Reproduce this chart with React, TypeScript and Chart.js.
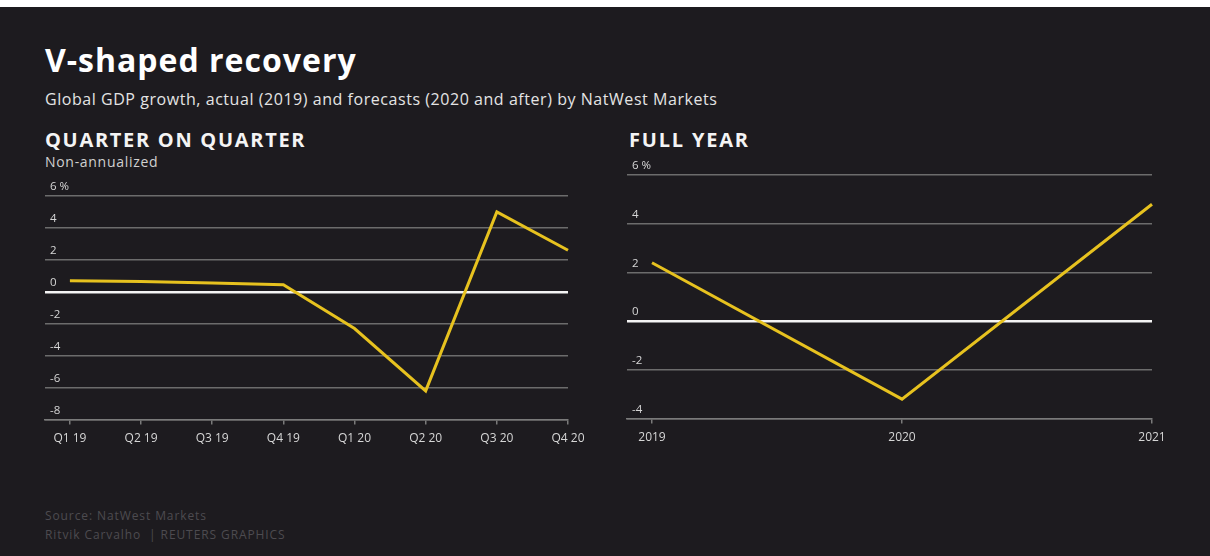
import React, { useEffect, useRef } from 'react';
import { Chart, registerables } from 'chart.js';

Chart.register(...registerables);

// ---- Data ----
const quarterLabels = ['Q1 19', 'Q2 19', 'Q3 19', 'Q4 19', 'Q1 20', 'Q2 20', 'Q3 20', 'Q4 20'];
const quarterValues = [0.7, 0.65, 0.55, 0.45, -2.3, -6.2, 5.0, 2.6];
const quarterYMin = -8;
const quarterYMax = 6;

const yearLabels = ['2019', '2020', '2021'];
const yearValues = [2.4, -3.2, 4.8];
const yearYMin = -4;
const yearYMax = 6;

const yStep = 2;

const BG = '#1d1b1f';
const LINE = '#e7c21f';
const FONT = '"Open Sans", "Noto Sans", sans-serif';

function makeConfig(labels: string[], values: number[], yMin: number, yMax: number, xLeftPad: number, padRight: number): any {
  return {
    type: 'line',
    data: {
      datasets: [
        {
          data: values.map((v, i) => ({ x: i, y: v })),
          borderColor: LINE,
          borderWidth: 3,
          pointRadius: 0,
          tension: 0,
          fill: false,
          clip: false,
          borderJoinStyle: 'miter',
        },
      ],
    },
    options: {
      animation: false,
      responsive: false,
      devicePixelRatio: 1,
      events: [],
      layout: { padding: { left: 0, right: padRight, top: 20, bottom: 8 } },
      plugins: { legend: { display: false }, tooltip: { enabled: false }, title: { display: false } },
      scales: {
        x: {
          type: 'linear',
          min: -xLeftPad,
          max: labels.length - 1,
          afterBuildTicks: (axis: any) => {
            axis.ticks = labels.map((_, i) => ({ value: i }));
          },
          ticks: {
            autoSkip: false,
            maxRotation: 0,
            padding: 7,
            color: '#d6d6d6',
            font: { family: FONT, size: 12 },
            callback: (value: any) => labels[Math.round(Number(value))] ?? '',
          },
          grid: {
            drawOnChartArea: false,
            drawTicks: true,
            tickLength: 5,
            color: '#7a7a7a',
            lineWidth: 1.5,
          },
          border: { display: true, color: '#7a7a7a', width: 1.5 },
        },
        y: {
          type: 'linear',
          min: yMin,
          max: yMax,
          ticks: {
            stepSize: yStep,
            mirror: true,
            padding: 5,
            labelOffset: -9,
            color: '#d6d6d6',
            font: { family: FONT, size: 11.5 },
            callback: (value: any) => (Number(value) === yMax ? `${value} %` : `${value}`),
          },
          grid: {
            drawTicks: false,
            color: (ctx: any) => (ctx.tick && ctx.tick.value === 0 ? '#f4f4f4' : '#6c6c6c'),
            lineWidth: (ctx: any) => (ctx.tick && ctx.tick.value === 0 ? 2.4 : 1.5),
          },
          border: { display: false },
        },
      },
    },
  };
}

function LineChart(props: {
  labels: string[];
  values: number[];
  yMin: number;
  yMax: number;
  xLeftPad: number;
  padRight: number;
  left: number;
  top: number;
  width: number;
  height: number;
}) {
  const ref = useRef<HTMLCanvasElement | null>(null);
  useEffect(() => {
    if (!ref.current) return;
    const chart = new Chart(ref.current, makeConfig(props.labels, props.values, props.yMin, props.yMax, props.xLeftPad, props.padRight));
    return () => chart.destroy();
  }, []);
  return (
    <canvas
      ref={ref}
      width={props.width}
      height={props.height}
      style={{ position: 'absolute', left: props.left, top: props.top, width: props.width, height: props.height }}
    />
  );
}

const textBase: React.CSSProperties = {
  position: 'absolute',
  fontFamily: FONT,
  whiteSpace: 'nowrap',
  margin: 0,
};

export default function App() {
  return (
    <div style={{ position: 'absolute', left: 0, top: 0, width: 1210, height: 556, background: '#ffffff', overflow: 'hidden' }}>
      <div style={{ position: 'absolute', left: 0, top: 7, width: 1210, height: 549, background: BG }} />
      <div style={{ ...textBase, left: 45, top: 44, fontSize: 32, lineHeight: '32px', fontWeight: 700, letterSpacing: '1px', color: '#ffffff' }}>
        V-shaped recovery
      </div>
      <div style={{ ...textBase, left: 45, top: 91, fontSize: 16, lineHeight: '16px', letterSpacing: '0.55px', color: '#e4e4e4' }}>
        Global GDP growth, actual (2019) and forecasts (2020 and after) by NatWest Markets
      </div>
      <div style={{ ...textBase, left: 45, top: 130, fontSize: 20, lineHeight: '20px', fontWeight: 700, letterSpacing: '1.7px', color: '#f4f4f4' }}>
        QUARTER ON QUARTER
      </div>
      <div style={{ ...textBase, left: 45, top: 155, fontSize: 14, lineHeight: '14px', letterSpacing: '0.7px', color: '#d0d0d0' }}>
        Non-annualized
      </div>
      <div style={{ ...textBase, left: 629, top: 130, fontSize: 20, lineHeight: '20px', fontWeight: 700, letterSpacing: '1.8px', color: '#f4f4f4' }}>
        FULL YEAR
      </div>
      <LineChart
        labels={quarterLabels}
        values={quarterValues}
        yMin={quarterYMin}
        yMax={quarterYMax}
        xLeftPad={0.35}
        padRight={27}
        left={35}
        top={176}
        width={560}
        height={285}
      />
      <LineChart
        labels={yearLabels}
        values={yearValues}
        yMin={yearYMin}
        yMax={yearYMax}
        xLeftPad={0.1}
        padRight={25}
        left={617}
        top={155}
        width={560}
        height={305}
      />
      <div style={{ ...textBase, left: 45, top: 510, fontSize: 12, lineHeight: '12px', letterSpacing: '0.9px', color: '#4d4b50' }}>
        Source: NatWest Markets
      </div>
      <div style={{ ...textBase, left: 45, top: 529, fontSize: 12, lineHeight: '12px', letterSpacing: '0.9px', color: '#4d4b50' }}>
        Ritvik Carvalho &nbsp;| REUTERS GRAPHICS
      </div>
    </div>
  );
}
